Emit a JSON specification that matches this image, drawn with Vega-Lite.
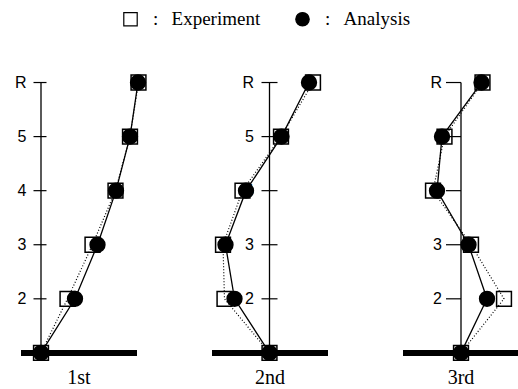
{
  "$schema": "https://vega.github.io/schema/vega-lite/v6.json",
  "padding": {"left": 14, "top": 9, "right": 0, "bottom": 0},
  "background": "white",
  "config": {"view": {"stroke": null}, "legend": {"labelFont": "Liberation Serif", "labelFontSize": 19, "labelColor": "black"}},
  "bounds": "flush",
  "spacing": 75,
  "datasets": {
    "modes": [
      {"mode": "1st", "series": "Experiment", "level": 1, "disp": 0},
      {"mode": "1st", "series": "Experiment", "level": 2, "disp": 0.265},
      {"mode": "1st", "series": "Experiment", "level": 3, "disp": 0.515},
      {"mode": "1st", "series": "Experiment", "level": 4, "disp": 0.745},
      {"mode": "1st", "series": "Experiment", "level": 5, "disp": 0.89},
      {"mode": "1st", "series": "Experiment", "level": 6, "disp": 0.975},
      {"mode": "2nd", "series": "Experiment", "level": 1, "disp": 0},
      {"mode": "2nd", "series": "Experiment", "level": 2, "disp": -0.45},
      {"mode": "2nd", "series": "Experiment", "level": 3, "disp": -0.465},
      {"mode": "2nd", "series": "Experiment", "level": 4, "disp": -0.27},
      {"mode": "2nd", "series": "Experiment", "level": 5, "disp": 0.115},
      {"mode": "2nd", "series": "Experiment", "level": 6, "disp": 0.435},
      {"mode": "3rd", "series": "Experiment", "level": 1, "disp": 0},
      {"mode": "3rd", "series": "Experiment", "level": 2, "disp": 0.43},
      {"mode": "3rd", "series": "Experiment", "level": 3, "disp": 0.1},
      {"mode": "3rd", "series": "Experiment", "level": 4, "disp": -0.28},
      {"mode": "3rd", "series": "Experiment", "level": 5, "disp": -0.165},
      {"mode": "3rd", "series": "Experiment", "level": 6, "disp": 0.215},
      {"mode": "1st", "series": "Analysis", "level": 1, "disp": 0},
      {"mode": "1st", "series": "Analysis", "level": 2, "disp": 0.34},
      {"mode": "1st", "series": "Analysis", "level": 3, "disp": 0.565},
      {"mode": "1st", "series": "Analysis", "level": 4, "disp": 0.75},
      {"mode": "1st", "series": "Analysis", "level": 5, "disp": 0.89},
      {"mode": "1st", "series": "Analysis", "level": 6, "disp": 0.97},
      {"mode": "2nd", "series": "Analysis", "level": 1, "disp": 0},
      {"mode": "2nd", "series": "Analysis", "level": 2, "disp": -0.35},
      {"mode": "2nd", "series": "Analysis", "level": 3, "disp": -0.44},
      {"mode": "2nd", "series": "Analysis", "level": 4, "disp": -0.235},
      {"mode": "2nd", "series": "Analysis", "level": 5, "disp": 0.12},
      {"mode": "2nd", "series": "Analysis", "level": 6, "disp": 0.395},
      {"mode": "3rd", "series": "Analysis", "level": 1, "disp": 0},
      {"mode": "3rd", "series": "Analysis", "level": 2, "disp": 0.26},
      {"mode": "3rd", "series": "Analysis", "level": 3, "disp": 0.075},
      {"mode": "3rd", "series": "Analysis", "level": 4, "disp": -0.24},
      {"mode": "3rd", "series": "Analysis", "level": 5, "disp": -0.19},
      {"mode": "3rd", "series": "Analysis", "level": 6, "disp": 0.205}
    ],
    "frame": [{"disp": 0, "level": 1, "top": 6}],
    "ticks": [{"level": 2}, {"level": 3}, {"level": 4}, {"level": 5}, {"level": 6}],
    "labels": [
      {"mode": "1st", "level": 6, "label": "R"},
      {"mode": "1st", "level": 5, "label": "5"},
      {"mode": "1st", "level": 4, "label": "4"},
      {"mode": "1st", "level": 3, "label": "3"},
      {"mode": "1st", "level": 2, "label": "2"},
      {"mode": "2nd", "level": 6, "label": "R"},
      {"mode": "2nd", "level": 5, "label": "5"},
      {"mode": "2nd", "level": 4, "label": "4"},
      {"mode": "2nd", "level": 3, "label": "3"},
      {"mode": "2nd", "level": 2, "label": "2"},
      {"mode": "3rd", "level": 6, "label": "R"},
      {"mode": "3rd", "level": 3, "label": "3"},
      {"mode": "3rd", "level": 2, "label": "2"}
    ]
  },
  "resolve": {
    "scale": {"x": "independent", "y": "independent", "shape": "shared", "fill": "shared", "stroke": "shared"},
    "legend": {"shape": "shared", "fill": "shared", "stroke": "shared"}
  },
  "hconcat": [
    {
      "width": 116, "height": 292,
      "title": {"text": "1st", "orient": "bottom", "anchor": "middle", "font": "Liberation Serif", "fontSize": 20, "fontWeight": "normal", "color": "black", "baseline": "top", "offset": 5},
      "layer": [
        {"data": {"name": "frame"}, "mark": {"type": "rule", "color": "black", "strokeWidth": 6},
         "encoding": {"y": {"field": "level", "type": "quantitative", "scale": {"domain": [0.85, 6.25], "nice": false, "zero": false}, "axis": null}}},
        {"data": {"name": "frame"}, "mark": {"type": "rule", "color": "black", "strokeWidth": 1.3},
         "encoding": {"x": {"field": "disp", "type": "quantitative", "scale": {"domain": [-0.2, 0.96], "nice": false, "zero": false}, "axis": null},
                      "y": {"field": "level", "type": "quantitative", "scale": {"domain": [0.85, 6.25], "nice": false, "zero": false}, "axis": null},
                      "y2": {"field": "top"}}},
        {"data": {"name": "ticks"}, "mark": {"type": "tick", "orient": "horizontal", "color": "black", "size": 13, "thickness": 1.2, "xOffset": -1, "opacity": 1},
         "encoding": {"x": {"datum": 0, "type": "quantitative", "scale": {"domain": [-0.2, 0.96], "nice": false, "zero": false}, "axis": null},
                      "y": {"field": "level", "type": "quantitative", "scale": {"domain": [0.85, 6.25], "nice": false, "zero": false}, "axis": null}}},
        {"data": {"name": "labels"}, "transform": [{"filter": "datum.mode === '1st'"}],
         "mark": {"type": "text", "align": "right", "baseline": "middle", "dx": -14.5, "font": "Liberation Sans", "fontSize": 16, "color": "black"},
         "encoding": {"x": {"datum": 0, "type": "quantitative", "scale": {"domain": [-0.2, 0.96], "nice": false, "zero": false}, "axis": null},
                      "y": {"field": "level", "type": "quantitative", "scale": {"domain": [0.85, 6.25], "nice": false, "zero": false}, "axis": null},
                      "text": {"field": "label"}}},
        {"data": {"name": "modes"}, "transform": [{"filter": "datum.mode === '1st' && datum.series === 'Experiment'"}],
         "mark": {"type": "line", "color": "black", "strokeWidth": 1.2, "strokeDash": [1, 2]},
         "encoding": {"x": {"field": "disp", "type": "quantitative", "scale": {"domain": [-0.2, 0.96], "nice": false, "zero": false}, "axis": null},
                      "y": {"field": "level", "type": "quantitative", "scale": {"domain": [0.85, 6.25], "nice": false, "zero": false}, "axis": null},
                      "order": {"field": "level"}}},
        {"data": {"name": "modes"}, "transform": [{"filter": "datum.mode === '1st' && datum.series === 'Analysis'"}],
         "mark": {"type": "line", "color": "black", "strokeWidth": 1.3},
         "encoding": {"x": {"field": "disp", "type": "quantitative", "scale": {"domain": [-0.2, 0.96], "nice": false, "zero": false}, "axis": null},
                      "y": {"field": "level", "type": "quantitative", "scale": {"domain": [0.85, 6.25], "nice": false, "zero": false}, "axis": null},
                      "order": {"field": "level"}}},
        {"data": {"name": "modes"}, "transform": [{"filter": "datum.mode === '1st'"}],
         "mark": {"type": "point", "strokeWidth": 1.5, "size": 220, "opacity": 1},
         "encoding": {"x": {"field": "disp", "type": "quantitative", "scale": {"domain": [-0.2, 0.96], "nice": false, "zero": false}, "axis": null},
                      "y": {"field": "level", "type": "quantitative", "scale": {"domain": [0.85, 6.25], "nice": false, "zero": false}, "axis": null},
                      "shape": {"field": "series", "type": "nominal", "scale": {"domain": ["Experiment", "Analysis"], "range": ["square", "circle"]},
                                "legend": {"orient": "none", "legendX": 100, "legendY": -59.5, "direction": "horizontal", "columns": 2, "columnPadding": 32, "title": null, "padding": 0, "labelFont": "Liberation Serif", "labelFontSize": 19, "labelColor": "black", "labelOffset": 13, "symbolSize": 180, "symbolStrokeColor": "black", "symbolStrokeWidth": 1.2, "labelExpr": "':\u2002\u2009' + datum.label"}},
                      "fill": {"field": "series", "type": "nominal", "scale": {"domain": ["Experiment", "Analysis"], "range": ["transparent", "black"]},
                                "legend": {"orient": "none", "legendX": 100, "legendY": -59.5, "direction": "horizontal", "columns": 2, "columnPadding": 32, "title": null, "padding": 0, "labelFont": "Liberation Serif", "labelFontSize": 19, "labelColor": "black", "labelOffset": 13, "symbolSize": 180, "symbolStrokeColor": "black", "symbolStrokeWidth": 1.2, "labelExpr": "':\u2002\u2009' + datum.label"}},
                      "stroke": {"field": "series", "type": "nominal", "scale": {"domain": ["Experiment", "Analysis"], "range": ["black", "black"]},
                                "legend": {"orient": "none", "legendX": 100, "legendY": -59.5, "direction": "horizontal", "columns": 2, "columnPadding": 32, "title": null, "padding": 0, "labelFont": "Liberation Serif", "labelFontSize": 19, "labelColor": "black", "labelOffset": 13, "symbolSize": 180, "symbolStrokeWidth": 1.2, "labelExpr": "':\u2002\u2009' + datum.label"}}}}
      ]
    },
    {
      "width": 116, "height": 292,
      "title": {"text": "2nd", "orient": "bottom", "anchor": "middle", "font": "Liberation Serif", "fontSize": 20, "fontWeight": "normal", "color": "black", "baseline": "top", "offset": 5},
      "layer": [
        {"data": {"name": "frame"}, "mark": {"type": "rule", "color": "black", "strokeWidth": 6},
         "encoding": {"y": {"field": "level", "type": "quantitative", "scale": {"domain": [0.85, 6.25], "nice": false, "zero": false}, "axis": null}}},
        {"data": {"name": "frame"}, "mark": {"type": "rule", "color": "black", "strokeWidth": 1.3},
         "encoding": {"x": {"field": "disp", "type": "quantitative", "scale": {"domain": [-0.575, 0.585], "nice": false, "zero": false}, "axis": null},
                      "y": {"field": "level", "type": "quantitative", "scale": {"domain": [0.85, 6.25], "nice": false, "zero": false}, "axis": null},
                      "y2": {"field": "top"}}},
        {"data": {"name": "ticks"}, "mark": {"type": "tick", "orient": "horizontal", "color": "black", "size": 16, "thickness": 1.2, "opacity": 1},
         "encoding": {"x": {"datum": 0, "type": "quantitative", "scale": {"domain": [-0.575, 0.585], "nice": false, "zero": false}, "axis": null},
                      "y": {"field": "level", "type": "quantitative", "scale": {"domain": [0.85, 6.25], "nice": false, "zero": false}, "axis": null}}},
        {"data": {"name": "labels"}, "transform": [{"filter": "datum.mode === '2nd'"}],
         "mark": {"type": "text", "align": "right", "baseline": "middle", "dx": -15.5, "font": "Liberation Sans", "fontSize": 16, "color": "black"},
         "encoding": {"x": {"datum": 0, "type": "quantitative", "scale": {"domain": [-0.575, 0.585], "nice": false, "zero": false}, "axis": null},
                      "y": {"field": "level", "type": "quantitative", "scale": {"domain": [0.85, 6.25], "nice": false, "zero": false}, "axis": null},
                      "text": {"field": "label"}}},
        {"data": {"name": "modes"}, "transform": [{"filter": "datum.mode === '2nd' && datum.series === 'Experiment'"}],
         "mark": {"type": "line", "color": "black", "strokeWidth": 1.2, "strokeDash": [1, 2]},
         "encoding": {"x": {"field": "disp", "type": "quantitative", "scale": {"domain": [-0.575, 0.585], "nice": false, "zero": false}, "axis": null},
                      "y": {"field": "level", "type": "quantitative", "scale": {"domain": [0.85, 6.25], "nice": false, "zero": false}, "axis": null},
                      "order": {"field": "level"}}},
        {"data": {"name": "modes"}, "transform": [{"filter": "datum.mode === '2nd' && datum.series === 'Analysis'"}],
         "mark": {"type": "line", "color": "black", "strokeWidth": 1.3},
         "encoding": {"x": {"field": "disp", "type": "quantitative", "scale": {"domain": [-0.575, 0.585], "nice": false, "zero": false}, "axis": null},
                      "y": {"field": "level", "type": "quantitative", "scale": {"domain": [0.85, 6.25], "nice": false, "zero": false}, "axis": null},
                      "order": {"field": "level"}}},
        {"data": {"name": "modes"}, "transform": [{"filter": "datum.mode === '2nd'"}],
         "mark": {"type": "point", "strokeWidth": 1.5, "size": 220, "opacity": 1},
         "encoding": {"x": {"field": "disp", "type": "quantitative", "scale": {"domain": [-0.575, 0.585], "nice": false, "zero": false}, "axis": null},
                      "y": {"field": "level", "type": "quantitative", "scale": {"domain": [0.85, 6.25], "nice": false, "zero": false}, "axis": null},
                      "shape": {"field": "series", "type": "nominal", "scale": {"domain": ["Experiment", "Analysis"], "range": ["square", "circle"]}},
                      "fill": {"field": "series", "type": "nominal", "scale": {"domain": ["Experiment", "Analysis"], "range": ["transparent", "black"]}},
                      "stroke": {"field": "series", "type": "nominal", "scale": {"domain": ["Experiment", "Analysis"], "range": ["black", "black"]}}}}
      ]
    },
    {
      "width": 116, "height": 292,
      "title": {"text": "3rd", "orient": "bottom", "anchor": "middle", "font": "Liberation Serif", "fontSize": 20, "fontWeight": "normal", "color": "black", "baseline": "top", "offset": 5},
      "layer": [
        {"data": {"name": "frame"}, "mark": {"type": "rule", "color": "black", "strokeWidth": 6},
         "encoding": {"y": {"field": "level", "type": "quantitative", "scale": {"domain": [0.85, 6.25], "nice": false, "zero": false}, "axis": null}}},
        {"data": {"name": "frame"}, "mark": {"type": "rule", "color": "black", "strokeWidth": 1.3},
         "encoding": {"x": {"field": "disp", "type": "quantitative", "scale": {"domain": [-0.58, 0.58], "nice": false, "zero": false}, "axis": null},
                      "y": {"field": "level", "type": "quantitative", "scale": {"domain": [0.85, 6.25], "nice": false, "zero": false}, "axis": null},
                      "y2": {"field": "top"}}},
        {"data": {"name": "ticks"}, "mark": {"type": "tick", "orient": "horizontal", "color": "black", "size": 15, "thickness": 1.2, "xOffset": -7.5, "opacity": 1},
         "encoding": {"x": {"datum": 0, "type": "quantitative", "scale": {"domain": [-0.58, 0.58], "nice": false, "zero": false}, "axis": null},
                      "y": {"field": "level", "type": "quantitative", "scale": {"domain": [0.85, 6.25], "nice": false, "zero": false}, "axis": null}}},
        {"data": {"name": "labels"}, "transform": [{"filter": "datum.mode === '3rd'"}],
         "mark": {"type": "text", "align": "right", "baseline": "middle", "dx": -19, "font": "Liberation Sans", "fontSize": 16, "color": "black"},
         "encoding": {"x": {"datum": 0, "type": "quantitative", "scale": {"domain": [-0.58, 0.58], "nice": false, "zero": false}, "axis": null},
                      "y": {"field": "level", "type": "quantitative", "scale": {"domain": [0.85, 6.25], "nice": false, "zero": false}, "axis": null},
                      "text": {"field": "label"}}},
        {"data": {"name": "modes"}, "transform": [{"filter": "datum.mode === '3rd' && datum.series === 'Experiment'"}],
         "mark": {"type": "line", "color": "black", "strokeWidth": 1.2, "strokeDash": [1, 2]},
         "encoding": {"x": {"field": "disp", "type": "quantitative", "scale": {"domain": [-0.58, 0.58], "nice": false, "zero": false}, "axis": null},
                      "y": {"field": "level", "type": "quantitative", "scale": {"domain": [0.85, 6.25], "nice": false, "zero": false}, "axis": null},
                      "order": {"field": "level"}}},
        {"data": {"name": "modes"}, "transform": [{"filter": "datum.mode === '3rd' && datum.series === 'Analysis'"}],
         "mark": {"type": "line", "color": "black", "strokeWidth": 1.3},
         "encoding": {"x": {"field": "disp", "type": "quantitative", "scale": {"domain": [-0.58, 0.58], "nice": false, "zero": false}, "axis": null},
                      "y": {"field": "level", "type": "quantitative", "scale": {"domain": [0.85, 6.25], "nice": false, "zero": false}, "axis": null},
                      "order": {"field": "level"}}},
        {"data": {"name": "modes"}, "transform": [{"filter": "datum.mode === '3rd'"}],
         "mark": {"type": "point", "strokeWidth": 1.5, "size": 220, "opacity": 1},
         "encoding": {"x": {"field": "disp", "type": "quantitative", "scale": {"domain": [-0.58, 0.58], "nice": false, "zero": false}, "axis": null},
                      "y": {"field": "level", "type": "quantitative", "scale": {"domain": [0.85, 6.25], "nice": false, "zero": false}, "axis": null},
                      "shape": {"field": "series", "type": "nominal", "scale": {"domain": ["Experiment", "Analysis"], "range": ["square", "circle"]}},
                      "fill": {"field": "series", "type": "nominal", "scale": {"domain": ["Experiment", "Analysis"], "range": ["transparent", "black"]}},
                      "stroke": {"field": "series", "type": "nominal", "scale": {"domain": ["Experiment", "Analysis"], "range": ["black", "black"]}}}}
      ]
    }
  ]
}
